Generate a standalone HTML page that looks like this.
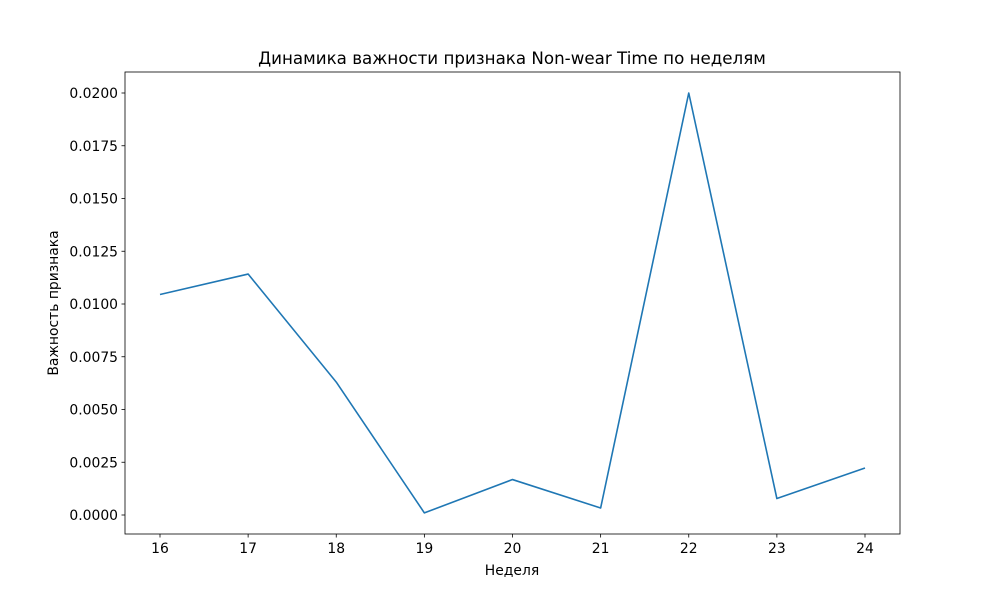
<!DOCTYPE html>
<html><head><meta charset="utf-8"><style>
body{margin:0;background:#fff;}
svg text{font-family:"DejaVu Sans","Liberation Sans",sans-serif;fill:#000;}
</style></head><body>
<svg width="1000" height="600" xmlns="http://www.w3.org/2000/svg">
<rect width="1000" height="600" fill="#fff"/>
<g id="plot"></g>
</svg>
<script>
const weeks=[16,17,18,19,20,21,22,23,24];
const importance=[0.01045,0.01142,0.0063,0.0001,0.00168,0.00033,0.0200,0.00078,0.00223];
const yTicks=[0,0.0025,0.005,0.0075,0.01,0.0125,0.015,0.0175,0.02];
const yTickLabels=["0.0000","0.0025","0.0050","0.0075","0.0100","0.0125","0.0150","0.0175","0.0200"];
const L=125,R=900,T=72,B=534;
const xs=v=>160+(v-16)*(865-160)/8;
const ys=v=>515-v*(515-93)/0.02;
const ns="http://www.w3.org/2000/svg";
const g=document.getElementById('plot');
function el(t,a,txt){const e=document.createElementNS(ns,t);for(const k in a)e.setAttribute(k,a[k]);if(txt!==undefined)e.textContent=txt;g.appendChild(e);return e;}
const fr=el('rect',{x:L,y:T,width:R-L,height:B-T,fill:'none',stroke:'#000','stroke-width':0.8});


weeks.forEach(w=>{
 const tk=el('line',{x1:xs(w),x2:xs(w),y1:B,y2:B+3.5,stroke:'#000','stroke-width':0.8});
 
 
 const t=el('text',{x:xs(w),y:B+19,'font-size':13.9,'text-anchor':'middle'},String(w));
 
 
});
yTicks.forEach((v,i)=>{
 const tk=el('line',{x1:L-3.5,x2:L,y1:ys(v),y2:ys(v),stroke:'#000','stroke-width':0.8});
 
 
 const t=el('text',{x:L-7,y:ys(v)+5,'font-size':13.9,'text-anchor':'end'},yTickLabels[i]);
 
 
});
const pts=weeks.map((w,i)=>xs(w)+','+ys(importance[i])).join(' ');
const ln=el('polyline',{points:pts,fill:'none',stroke:'#1f77b4','stroke-width':1.6,'stroke-linejoin':'round'});


const ti=el('text',{x:512,y:64,'font-size':16.7,'text-anchor':'middle'},'Динамика важности признака Non-wear Time по неделям');


const xl=el('text',{x:512,y:575,'font-size':13.9,'text-anchor':'middle'},'Неделя');


const yl=el('text',{x:58,y:303,'font-size':13.9,'text-anchor':'middle',transform:'rotate(-90 58 303)'},'Важность признака');


</script>
</body></html>
